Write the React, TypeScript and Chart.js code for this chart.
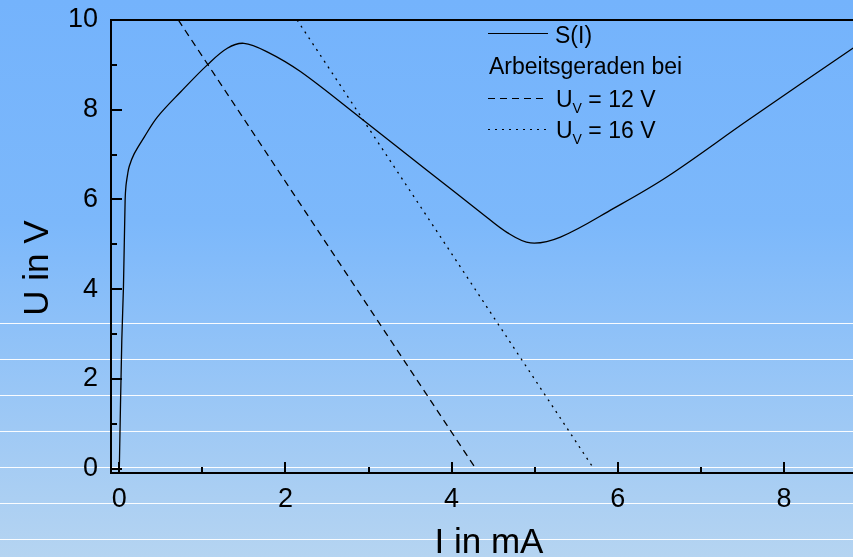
import React, { useEffect, useRef } from "react";
import { Chart, registerables } from "chart.js";

Chart.register(...registerables);

// ---- data ----
const sCurveI = [0, 0.03, 0.05, 0.07, 0.08, 0.1, 0.12, 0.18, 0.3, 0.46, 0.74, 1.06, 1.3, 1.5, 1.78, 2.18, 2.9, 3.71, 4.35, 4.67, 4.95, 5.31, 5.95, 6.59, 7.57, 8.83, 9.0];
const sCurveU = [0, 2.86, 4.05, 5.98, 6.3, 6.56, 6.74, 7.02, 7.39, 7.84, 8.4, 9.0, 9.37, 9.48, 9.29, 8.85, 7.82, 6.64, 5.71, 5.26, 5.03, 5.16, 5.8, 6.5, 7.77, 9.37, 9.58];
const line12I = [0.71, 4.29];
const line12U = [10, 0];
const line16I = [2.14, 5.71];
const line16U = [10, 0];

const xMajorTicks = [0, 2, 4, 6, 8];
const xMinorTicks = [1, 3, 5, 7, 9];
const yMajorTicks = [0, 2, 4, 6, 8, 10];
const yMinorTicks = [1, 3, 5, 7, 9];

const xTitle = "I in mA";
const yTitle = "U in V";
const legendSolid = "S(I)";
const legendHeader = "Arbeitsgeraden bei";
const legendSymbol = "U";
const legendSub = "V";
const legend12 = " = 12 V";
const legend16 = " = 16 V";

const FONT = '"Liberation Sans", Arial, Helvetica, sans-serif';

const toPts = (xs: number[], ys: number[]) => xs.map((x, i) => ({ x, y: ys[i] }));

const decorPlugin = {
  id: "decor",
  beforeDraw(chart: any) {
    const { ctx, width, height } = chart;
    ctx.save();
    const g = ctx.createLinearGradient(0, 0, 0, height);
    g.addColorStop(0, "#74b3fc");
    g.addColorStop(0.4, "#7cb8fb");
    g.addColorStop(1, "#b5d4f1");
    ctx.fillStyle = g;
    ctx.fillRect(0, 0, width, height);
    ctx.strokeStyle = "rgba(255,255,255,0.95)";
    ctx.lineWidth = 1;
    for (let y = 323.5; y < height; y += 36) {
      ctx.beginPath();
      ctx.moveTo(0, y);
      ctx.lineTo(width, y);
      ctx.stroke();
    }
    ctx.restore();
  },
  afterDatasetsDraw(chart: any) {
    const { ctx, chartArea } = chart;
    const xs = chart.scales.x;
    const ys = chart.scales.y;
    const { left, right, top, bottom } = chartArea;
    ctx.save();
    ctx.strokeStyle = "#000";
    ctx.lineWidth = 2;
    ctx.setLineDash([]);
    // axes frame (left, bottom, top)
    ctx.beginPath();
    ctx.moveTo(left, top);
    ctx.lineTo(right + 2, top);
    ctx.moveTo(left, top - 1);
    ctx.lineTo(left, bottom + 1);
    ctx.moveTo(left - 1, bottom);
    ctx.lineTo(right + 2, bottom);
    ctx.stroke();
    // ticks
    ctx.beginPath();
    xMajorTicks.forEach((v) => {
      const px = Math.round(xs.getPixelForValue(v));
      ctx.moveTo(px, bottom);
      ctx.lineTo(px, bottom - 11);
    });
    xMinorTicks.forEach((v) => {
      const px = Math.round(xs.getPixelForValue(v));
      ctx.moveTo(px, bottom);
      ctx.lineTo(px, bottom - 6);
    });
    yMajorTicks.forEach((v) => {
      const py = Math.round(ys.getPixelForValue(v));
      ctx.moveTo(left, py);
      ctx.lineTo(left + 11, py);
    });
    yMinorTicks.forEach((v) => {
      const py = Math.round(ys.getPixelForValue(v));
      ctx.moveTo(left, py);
      ctx.lineTo(left + 6, py);
    });
    ctx.stroke();

    // axis titles
    ctx.fillStyle = "#000";
    ctx.font = `35px ${FONT}`;
    ctx.textAlign = "center";
    ctx.textBaseline = "alphabetic";
    ctx.fillText(xTitle, 489, 553);
    ctx.save();
    ctx.translate(48, 268);
    ctx.rotate(-Math.PI / 2);
    ctx.fillText(yTitle, 0, 0);
    ctx.restore();

    // legend
    ctx.lineWidth = 1.2;
    ctx.textAlign = "left";
    const drawLine = (y: number, dash: number[]) => {
      ctx.setLineDash(dash);
      ctx.beginPath();
      ctx.moveTo(488, y);
      ctx.lineTo(548, y);
      ctx.stroke();
      ctx.setLineDash([]);
    };
    drawLine(33.5, []);
    ctx.font = `23px ${FONT}`;
    ctx.fillText(legendSolid, 555, 42.5);
    ctx.fillText(legendHeader, 489, 74);
    const drawU = (baseline: number, rest: string) => {
      ctx.font = `23px ${FONT}`;
      ctx.fillText(legendSymbol, 556, baseline);
      const uw = ctx.measureText(legendSymbol).width;
      ctx.font = `14px ${FONT}`;
      ctx.fillText(legendSub, 556 + uw, baseline + 6.5);
      const vw = ctx.measureText(legendSub).width;
      ctx.font = `23px ${FONT}`;
      ctx.fillText(rest, 556 + uw + vw, baseline);
    };
    drawLine(98.5, [7, 5]);
    drawU(106.7, legend12);
    drawLine(129.5, [2, 5]);
    drawU(137.7, legend16);
    ctx.restore();
  },
};

export default function App() {
  const ref = useRef<HTMLCanvasElement | null>(null);
  useEffect(() => {
    if (!ref.current) return;
    const chart = new Chart(ref.current, {
      type: "line",
      data: {
        datasets: [
          {
            label: legendSolid,
            data: toPts(sCurveI, sCurveU),
            borderColor: "#000",
            borderWidth: 1.3,
            pointRadius: 0,
            tension: 0.35,
            fill: false,
          },
          {
            label: "U_V = 12 V",
            data: toPts(line12I, line12U),
            borderColor: "#000",
            borderWidth: 1.3,
            borderDash: [7, 5],
            pointRadius: 0,
            tension: 0,
            fill: false,
          },
          {
            label: "U_V = 16 V",
            data: toPts(line16I, line16U),
            borderColor: "#000",
            borderWidth: 1.3,
            borderDash: [2, 5],
            pointRadius: 0,
            tension: 0,
            fill: false,
          },
        ],
      },
      options: {
        responsive: false,
        animation: false,
        devicePixelRatio: 1,
        layout: { padding: { top: 20, left: 0, right: 13, bottom: 0 } },
        plugins: { legend: { display: false }, tooltip: { enabled: false }, title: { display: false } },
        scales: {
          x: {
            type: "linear",
            min: -0.1,
            max: 9,
            grid: { display: false, drawTicks: false },
            border: { display: false },
            afterBuildTicks: (s: any) => {
              s.ticks = xMajorTicks.map((v) => ({ value: v }));
            },
            afterFit: (s: any) => {
              s.height = 84;
              s.paddingLeft = 0;
              s.paddingRight = 0;
            },
            ticks: {
              autoSkip: false,
              maxRotation: 0,
              padding: 10,
              color: "#000",
              font: { family: FONT, size: 27 },
            },
          },
          y: {
            type: "linear",
            min: -0.1,
            max: 10,
            grid: { display: false, drawTicks: false },
            border: { display: false },
            afterBuildTicks: (s: any) => {
              s.ticks = yMajorTicks.map((v) => ({ value: v }));
            },
            afterFit: (s: any) => {
              s.width = 111;
              s.paddingTop = 0;
              s.paddingBottom = 0;
            },
            ticks: {
              autoSkip: false,
              padding: 13,
              color: "#000",
              font: { family: FONT, size: 27 },
            },
          },
        },
      },
      plugins: [decorPlugin],
    } as any);
    return () => chart.destroy();
  }, []);
  return (
    <div style={{ position: "fixed", left: 0, top: 0, width: 853, height: 557, overflow: "hidden" }}>
      <canvas ref={ref} width={880} height={557} style={{ display: "block", width: 880, height: 557 }} />
    </div>
  );
}
